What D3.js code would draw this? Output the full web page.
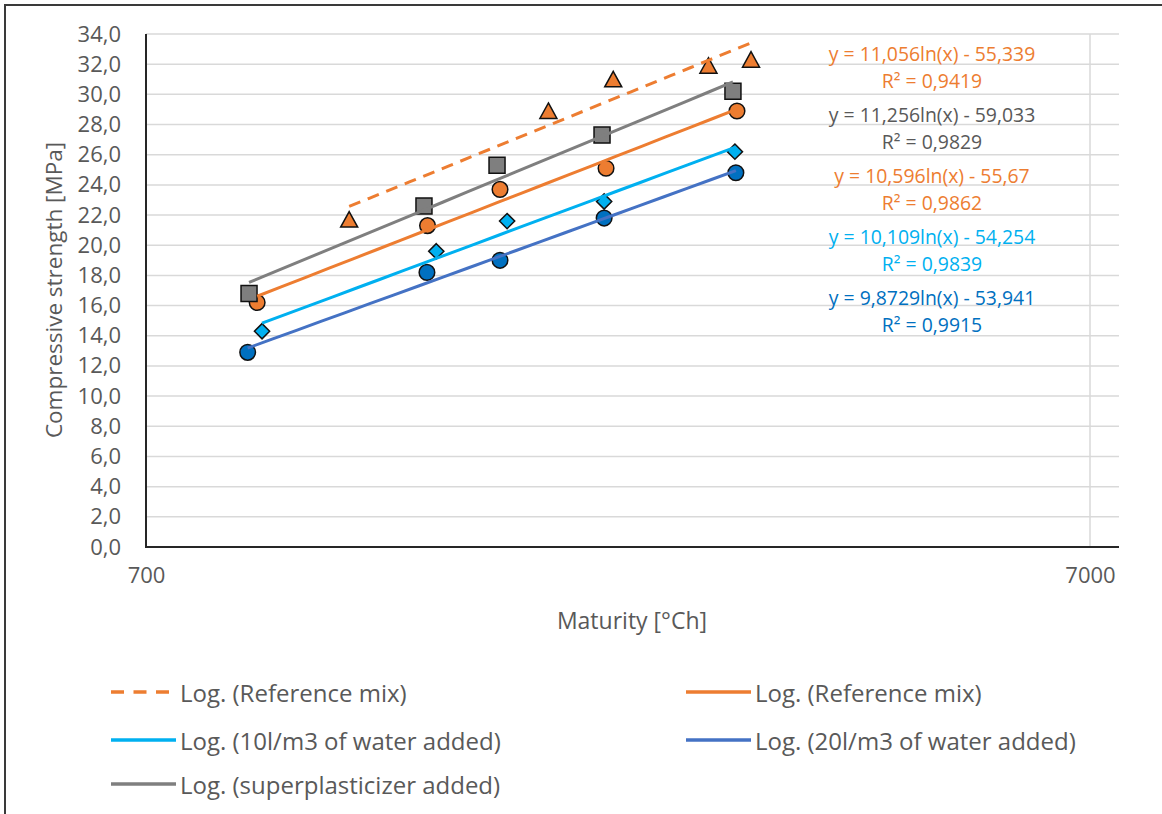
<!DOCTYPE html>
<html>
<head>
<meta charset="utf-8">
<script src="https://cdn.jsdelivr.net/npm/d3@7"></script>
<style>
  html, body { margin: 0; padding: 0; background: #fff; }
  svg { display: block; font-family: "Open Sans", sans-serif; }
</style>
</head>
<body>
<svg id="chart" width="1162" height="814"></svg>
<script>
// ---- data ----
const seriesNames = ["Reference mix", "Reference mix", "10l/m3 of water added", "20l/m3 of water added", "superplasticizer added"];
const refMixAMaturity = [1149, 1868, 2188, 2760, 3062];
const refMixAStrength = [21.7, 28.9, 31.0, 31.9, 32.3];
const refMixBMaturity = [918, 1391, 1660, 2150, 2959];
const refMixBStrength = [16.2, 21.3, 23.7, 25.1, 28.9];
const water10Maturity = [929, 1421, 1689, 2140, 2944];
const water10Strength = [14.3, 19.6, 21.6, 22.9, 26.2];
const water20Maturity = [897, 1389, 1660, 2140, 2951];
const water20Strength = [12.9, 18.2, 19.0, 21.8, 24.8];
const superMaturity = [900, 1379, 1648, 2129, 2930];
const superStrength = [16.8, 22.6, 25.3, 27.3, 30.2];
const trendSlope = [11.056, 10.596, 10.109, 9.8729, 11.256];
const trendIntercept = [-55.339, -55.67, -54.254, -53.941, -59.033];
const trendR2 = [0.9419, 0.9862, 0.9839, 0.9915, 0.9829];
const xTickValues = [700, 7000];
const yTickValues = [0, 2, 4, 6, 8, 10, 12, 14, 16, 18, 20, 22, 24, 26, 28, 30, 32, 34];
const labelOrder = [0, 4, 1, 2, 3];

// ---- styles ----
const markerFill = ["#ED7D31", "#ED7D31", "#00B0F0", "#0070C0", "#7F7F7F"];
const markerShape = ["triangle", "circle", "diamond", "circle", "square"];
const trendColor = ["#ED7D31", "#ED7D31", "#00B0F0", "#4472C4", "#7F7F7F"];
const trendDash = ["12,8", null, null, null, null];
const labelColor = ["#ED7D31", "#ED7D31", "#00B0F0", "#0070C0", "#595959"];

const series = [
  {mat: refMixAMaturity, str: refMixAStrength},
  {mat: refMixBMaturity, str: refMixBStrength},
  {mat: water10Maturity, str: water10Strength},
  {mat: water20Maturity, str: water20Strength},
  {mat: superMaturity, str: superStrength}
].map((s, i) => ({...s, i, name: seriesNames[i]}));

const L = 146, T = 34, R = 1119, B = 547;
const x = d3.scaleLog().domain([700, 7000]).range([L, 1090]);
const y = d3.scaleLinear().domain([0, 34]).range([B, T]);
const fmt1 = v => d3.format(".1f")(v).replace(".", ",");
const comma = v => String(v).replace(".", ",");

const svg = d3.select("#chart");

// outer border
svg.append("rect").attr("x", 5).attr("y", 5).attr("width", 1300).attr("height", 1000)
  .attr("fill", "none").attr("stroke", "#3a3a3a").attr("stroke-width", 2);

// gridlines
svg.append("g").selectAll("line").data(yTickValues.filter(v => v > 0)).join("line")
  .attr("x1", L).attr("x2", R).attr("y1", d => y(d)).attr("y2", d => y(d))
  .attr("stroke", "#D9D9D9").attr("stroke-width", 1.5);
svg.append("g").selectAll("line").data(xTickValues.filter(v => v > 700)).join("line")
  .attr("x1", d => x(d)).attr("x2", d => x(d)).attr("y1", T).attr("y2", B)
  .attr("stroke", "#D9D9D9").attr("stroke-width", 1.5);

// axes
const yAxis = d3.axisLeft(y).tickValues(yTickValues).tickSize(0).tickPadding(25).tickFormat(fmt1);
const gy = svg.append("g").attr("transform", `translate(${L},0)`).call(yAxis);
gy.select(".domain").remove();
gy.selectAll("text").attr("font-size", 22).attr("fill", "#595959").attr("font-family", "Open Sans");

const xAxis = d3.axisBottom(x).tickValues(xTickValues).tickSize(0).tickPadding(20).tickFormat(d3.format("d"));
const gx = svg.append("g").attr("transform", `translate(0,${B})`).call(xAxis);
gx.select(".domain").remove();
gx.selectAll("text").attr("font-size", 22).attr("fill", "#595959").attr("font-family", "Open Sans");

svg.append("line").attr("x1", L).attr("x2", L).attr("y1", T).attr("y2", B)
  .attr("stroke", "#262626").attr("stroke-width", 2);
svg.append("line").attr("x1", L - 1).attr("x2", R).attr("y1", B).attr("y2", B)
  .attr("stroke", "#262626").attr("stroke-width", 2);

// axis titles
svg.append("text").attr("transform", "translate(53,290) rotate(-90)")
  .attr("text-anchor", "middle").attr("dominant-baseline", "central")
  .attr("font-size", 22.5).attr("fill", "#595959").text("Compressive strength [MPa]");
svg.append("text").attr("x", 632).attr("y", 620)
  .attr("text-anchor", "middle").attr("dominant-baseline", "central")
  .attr("font-size", 23).attr("fill", "#595959").text("Maturity [°Ch]");

// markers
function markerPath(shape) {
  if (shape === "triangle") return "M0,-8L8.5,7.5L-8.5,7.5Z";
  if (shape === "square") return d3.symbol(d3.symbolSquare, 256)();
  if (shape === "diamond") return "M0,-7.6L7.6,0L0,7.6L-7.6,0Z";
  return d3.symbol(d3.symbolCircle, Math.PI * 7.8 * 7.8)();
}
series.forEach(s => {
  svg.append("g").selectAll("path").data(s.mat.map((m, k) => [m, s.str[k]])).join("path")
    .attr("d", markerPath(markerShape[s.i]))
    .attr("transform", d => `translate(${x(d[0])},${y(d[1])})`)
    .attr("fill", markerFill[s.i]).attr("stroke", "#111").attr("stroke-width", 1.5);
});

// trendlines (logarithmic fits drawn from their coefficients over data range)
series.forEach(s => {
  const ext = d3.extent(s.mat);
  const pts = d3.range(0, 21).map(k => ext[0] * Math.pow(ext[1] / ext[0], k / 20))
    .map(m => [m, trendSlope[s.i] * Math.log(m) + trendIntercept[s.i]]);
  svg.append("path").datum(pts)
    .attr("d", d3.line().x(d => x(d[0])).y(d => y(d[1])))
    .attr("fill", "none").attr("stroke", trendColor[s.i]).attr("stroke-width", 3)
    .attr("stroke-dasharray", trendDash[s.i]);
});

// equation labels
const eqX = 932, eqY0 = 53, pairStep = 61, lineStep = 27.5;
labelOrder.forEach((si, k) => {
  const b = trendIntercept[si];
  const eq = `y = ${comma(trendSlope[si])}ln(x) ${b < 0 ? "-" : "+"} ${comma(Math.abs(b))}`;
  const r2 = `R² = ${comma(trendR2[si])}`;
  [eq, r2].forEach((t, j) => {
    svg.append("text").attr("x", eqX).attr("y", eqY0 + k * pairStep + j * lineStep)
      .attr("text-anchor", "middle").attr("dominant-baseline", "central")
      .attr("font-size", 19.4).attr("fill", labelColor[si]).text(t);
  });
});

// legend
const legendX = [111, 686], legendY = [692, 740, 784];
series.forEach((s, i) => {
  const lx = legendX[i % 2], ly = legendY[Math.floor(i / 2)];
  svg.append("line").attr("x1", lx).attr("x2", lx + 65).attr("y1", ly).attr("y2", ly)
    .attr("stroke", trendColor[i]).attr("stroke-width", 3.5)
    .attr("stroke-dasharray", trendDash[i] ? "13,9.5" : null);
  svg.append("text").attr("x", lx + 69).attr("y", ly).attr("dominant-baseline", "central")
    .attr("font-size", 24).attr("fill", "#595959").text(`Log. (${s.name})`);
});
</script>
</body>
</html>
